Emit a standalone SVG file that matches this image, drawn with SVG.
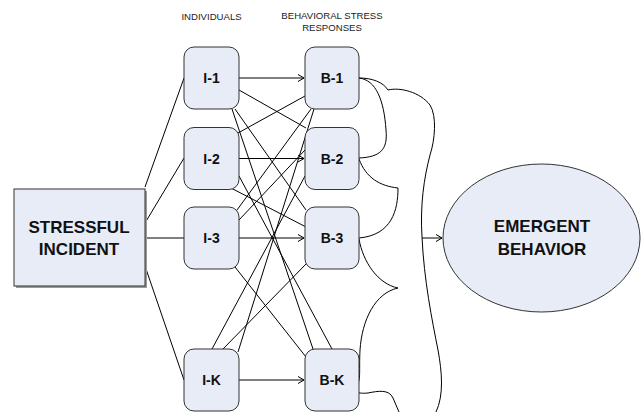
<svg xmlns="http://www.w3.org/2000/svg" width="644" height="412" viewBox="0 0 644 412">
<style>
.node{fill:#E7ECF7;stroke:#333;stroke-width:1}
.shadow{fill:#9a9a9a}
.lbl{font-family:"Liberation Sans",Arial,sans-serif;font-weight:bold;font-size:14px;fill:#111;text-anchor:middle}
.big{font-family:"Liberation Sans",Arial,sans-serif;font-weight:bold;font-size:17px;fill:#111;text-anchor:middle}
.hdr{font-family:"Liberation Sans",Arial,sans-serif;font-size:9.6px;fill:#222;text-anchor:middle}
.ln{stroke:#000;stroke-width:1;fill:none}
</style>
<defs>
<marker id="arr" markerUnits="userSpaceOnUse" markerWidth="10" markerHeight="10" refX="7" refY="4" orient="auto">
<path d="M1,0.5 L7,4 L1,7.5" fill="none" stroke="#000" stroke-width="1"/>
</marker>
</defs>
<rect width="644" height="412" fill="#fff"/>
<g id="headers">
<text class="hdr" x="211.5" y="20">INDIVIDUALS</text>
<text class="hdr" x="332" y="18.5">BEHAVIORAL STRESS</text>
<text class="hdr" x="332" y="30.5">RESPONSES</text>
</g>
<g id="connectors">
<path class="ln" d="M145,187 L184,78"/>
<path class="ln" d="M145,223 L184,158"/>
<path class="ln" d="M145,238 L184,238"/>
<path class="ln" d="M145,266 L184,380"/>
<path class="ln" d="M239,78 L304,78" marker-end="url(#arr)"/>
<path class="ln" d="M239,158.5 L304,158.5" marker-end="url(#arr)"/>
<path class="ln" d="M239,238 L304,238" marker-end="url(#arr)"/>
<path class="ln" d="M239,380 L304,380" marker-end="url(#arr)"/>
<path class="ln" d="M239,90 L306,128"/>
<path class="ln" d="M235,109 L306,210"/>
<path class="ln" d="M232,109 L313,349"/>
<path class="ln" d="M238,133 L305,96"/>
<path class="ln" d="M231,188 L306,227"/>
<path class="ln" d="M239,176 L332,349"/>
<path class="ln" d="M237,210 L311,109"/>
<path class="ln" d="M239,220 L305,150"/>
<path class="ln" d="M235,267 L306,357"/>
<path class="ln" d="M238,352 L314,109"/>
<path class="ln" d="M212,349 L305,176"/>
<path class="ln" d="M223,349 L307,263"/>
<path class="ln" d="M359,78 C372,78 383,82 388,90 C400,87 420,92 430,105 C437,116 435,140 430,155 C424,178 420,205 422,237 C424,280 432,320 438,350 C442,372 444,395 436,412"/>
<path class="ln" d="M359,78 C376,80 384,100 386,130 C388,150 380,157 359,158"/>
<path class="ln" d="M359,159 C366,178 380,186 398,188 C398,210 392,235 359,238"/>
<path class="ln" d="M359,239 C363,262 378,284 398,288 C375,293 362,320 360,350 C359,370 361,380 357,385 C352,392 358,394 368,393 C378,391 389,389 393,398 L399,412"/>
<path class="ln" d="M422,238 L442,238" marker-end="url(#arr)"/>
</g>
<g id="stressful-incident">
<rect class="shadow" x="16" y="191" width="131" height="97"/>
<rect class="node" x="14" y="189" width="131" height="97"/>
<text class="big" x="79" y="233">STRESSFUL</text>
<text class="big" x="79" y="255">INCIDENT</text>
</g>
<g id="I-1">
<rect class="node" x="184" y="47" width="55" height="62" rx="10"/>
<text class="lbl" x="211.5" y="83">I-1</text>
</g>
<g id="I-2">
<rect class="node" x="184" y="127.5" width="55" height="62" rx="10"/>
<text class="lbl" x="211.5" y="163.5">I-2</text>
</g>
<g id="I-3">
<rect class="node" x="184" y="207" width="55" height="62" rx="10"/>
<text class="lbl" x="211.5" y="243">I-3</text>
</g>
<g id="I-K">
<rect class="node" x="184" y="349" width="55" height="62" rx="10"/>
<text class="lbl" x="211.5" y="385">I-K</text>
</g>
<g id="B-1">
<rect class="node" x="305" y="47" width="54" height="62" rx="10"/>
<text class="lbl" x="332" y="83">B-1</text>
</g>
<g id="B-2">
<rect class="node" x="305" y="127.5" width="54" height="62" rx="10"/>
<text class="lbl" x="332" y="163.5">B-2</text>
</g>
<g id="B-3">
<rect class="node" x="305" y="207" width="54" height="62" rx="10"/>
<text class="lbl" x="332" y="243">B-3</text>
</g>
<g id="B-K">
<rect class="node" x="305" y="349" width="54" height="62" rx="10"/>
<text class="lbl" x="332" y="385">B-K</text>
</g>
<g id="emergent-behavior">
<ellipse class="node" cx="541.5" cy="238" rx="98.5" ry="74"/>
<text class="big" x="542" y="231.5">EMERGENT</text>
<text class="big" x="542" y="255">BEHAVIOR</text>
</g>
</svg>
